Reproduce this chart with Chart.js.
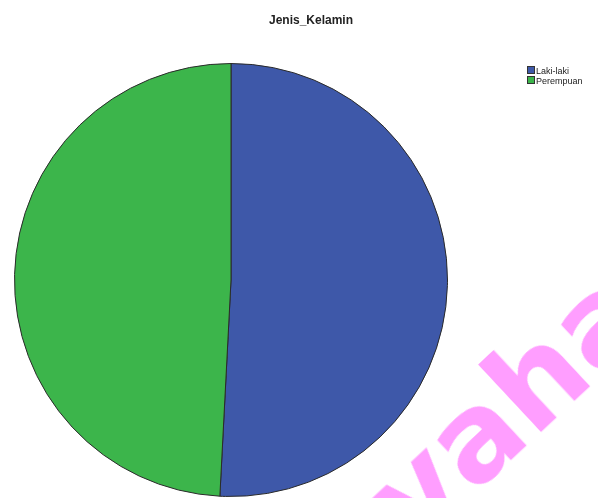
<!DOCTYPE html>
<html>
<head>
<meta charset="utf-8">
<script src="https://cdn.jsdelivr.net/npm/chart.js@4/dist/chart.umd.min.js"></script>
<style>
  html, body { margin: 0; padding: 0; background: #fff; overflow: hidden; }
  #wrap { position: relative; width: 598px; height: 498px; overflow: hidden; }
  #pie { position: absolute; left: 0; top: 0; }
  #title { position: absolute; left: 0; width: 622px; top: 13px; text-align: center;
    font: bold 12px "Liberation Sans", Arial, sans-serif; color: #222; }
  #legend { position: absolute; left: 527px; top: 66px; font: 9px "Liberation Sans", Arial, sans-serif; color: #222; }
  #legend div { height: 10px; line-height: 10px; white-space: nowrap; }
  #legend span { display: inline-block; width: 8px; height: 8px; border: 1px solid #333; vertical-align: top; margin-right: 1px; box-sizing: border-box; }
  #mark { position: absolute; left: 428px; top: 441px; transform-origin: 0 100%; transform: rotate(-43deg);
    font: bold 122px "DejaVu Sans", sans-serif; color: #ff9eff; line-height: 1; white-space: nowrap; }
</style>
</head>
<body>
<div id="wrap">
  <canvas id="pie" width="598" height="498"></canvas>
  <div id="title"></div>
  <div id="legend"></div>
  <div id="mark">vahana</div>
</div>
<script>
const chartTitle = "Jenis_Kelamin";
const categories = ["Laki-laki", "Perempuan"];
const counts = [31, 30];
const sliceColors = ["#3e58a9", "#3cb54b"];

document.getElementById("title").textContent = chartTitle;

// Legend, SPSS style
const legendBox = document.getElementById("legend");
categories.forEach((name, i) => {
  const row = document.createElement("div");
  const swatch = document.createElement("span");
  swatch.style.background = sliceColors[i];
  row.appendChild(swatch);
  row.appendChild(document.createTextNode(name));
  legendBox.appendChild(row);
});

new Chart(document.getElementById("pie"), {
  type: "pie",
  data: {
    labels: categories,
    datasets: [{ data: counts, backgroundColor: sliceColors, borderColor: "#2a2a2a", borderWidth: 1 }],
  },
  options: {
    responsive: false,
    animation: false,
    layout: { padding: { left: 14, right: 150, top: 63, bottom: 1 } },
    plugins: { legend: { display: false }, title: { display: false }, tooltip: { enabled: false } },
  },
});
</script>
</body>
</html>
